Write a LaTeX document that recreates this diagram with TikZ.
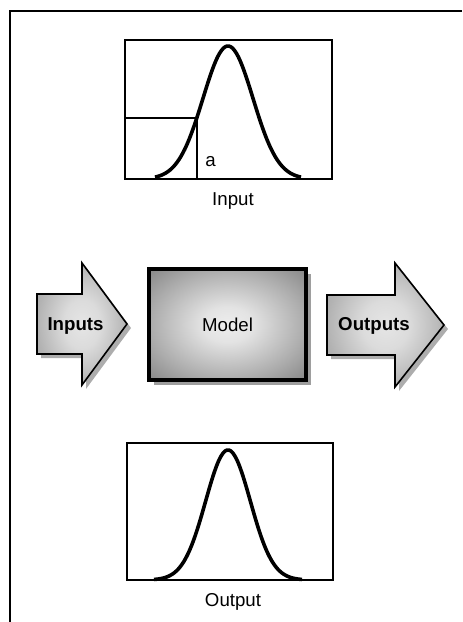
\documentclass[tikz,border=0pt]{standalone}
\usepackage{fontspec}
\setmainfont{Liberation Sans}
\usetikzlibrary{shadows}
\pgfdeclareradialshading{softglow}{\pgfpoint{0bp}{0bp}}{color(0bp)=(black!7); color(8bp)=(black!11); color(25bp)=(black!33); color(36bp)=(black!48); color(50bp)=(black!48)}
\pgfdeclareradialshading{arrowglow}{\pgfpoint{0bp}{0bp}}{color(0bp)=(black!10); color(10bp)=(black!14); color(25bp)=(black!30); color(36bp)=(black!38); color(50bp)=(black!38)}

\begin{document}
\begin{tikzpicture}[x=0.75pt,y=-0.75pt]
\tikzset{
  framerule/.style={line width=1.9pt},
  chartbox/.style={draw,line width=2.2pt},
  bellcurve/.style={line width=2.7pt,line join=round},
  guide/.style={line width=1.6pt},
  flowarrow/.style={draw,line width=1.2pt,line join=miter,shade,shading=arrowglow,
    drop shadow={shadow xshift=3pt,shadow yshift=-3pt,fill=black!32,opacity=1}},
  modelbox/.style={draw,line width=2.4pt,minimum width=117.75pt,minimum height=83.25pt,
    shade,shading=softglow,
    drop shadow={shadow xshift=4pt,shadow yshift=-4pt,fill=black!38,opacity=1},
    font=\fontsize{14}{16}\selectfont},
  caption/.style={inner sep=0pt,anchor=base,font=\fontsize{14}{16}\selectfont},
  arrowlabel/.style={inner sep=0pt,anchor=base,font=\fontsize{14}{16}\selectfont\bfseries}
}
\useasboundingbox (0,0) rectangle (462,622);
% frame
\draw[framerule] (462,11) -- (10,11) -- (10,622);
% input distribution
\draw[chartbox] (125,40) rectangle (332,179);
\draw[guide] (125,118) -- (197,118) -- (197,179);
\draw[bellcurve] plot[domain=-73:73,samples=80,smooth] ({228+\x},{179-133*exp(-\x*\x/1250)});
\node[caption] (n_a) at (210.5,166) {a};
\node[caption] (n_input) at (233,205) {Input};
% model and arrows
\path[flowarrow] (37,294) -- (82,294) -- (82,263) -- (127,324) -- (82,385) -- (82,354) -- (37,354) -- cycle;
\node[arrowlabel] (n_inputs) at (75.5,330) {Inputs};
\node[modelbox] (n_model) at (227.5,324.5) {Model};
\path[flowarrow] (327,295) -- (395,295) -- (395,263) -- (444,325) -- (395,387) -- (395,355) -- (327,355) -- cycle;
\node[arrowlabel] (n_outputs) at (374,330) {Outputs};
% output distribution
\draw[chartbox] (127,443) rectangle (333,580);
\draw[bellcurve] plot[domain=-74:74,samples=80,smooth] ({228+\x},{580-130*exp(-\x*\x/1000)});
\node[caption] (n_output) at (233,606) {Output};
\end{tikzpicture}
\end{document}
